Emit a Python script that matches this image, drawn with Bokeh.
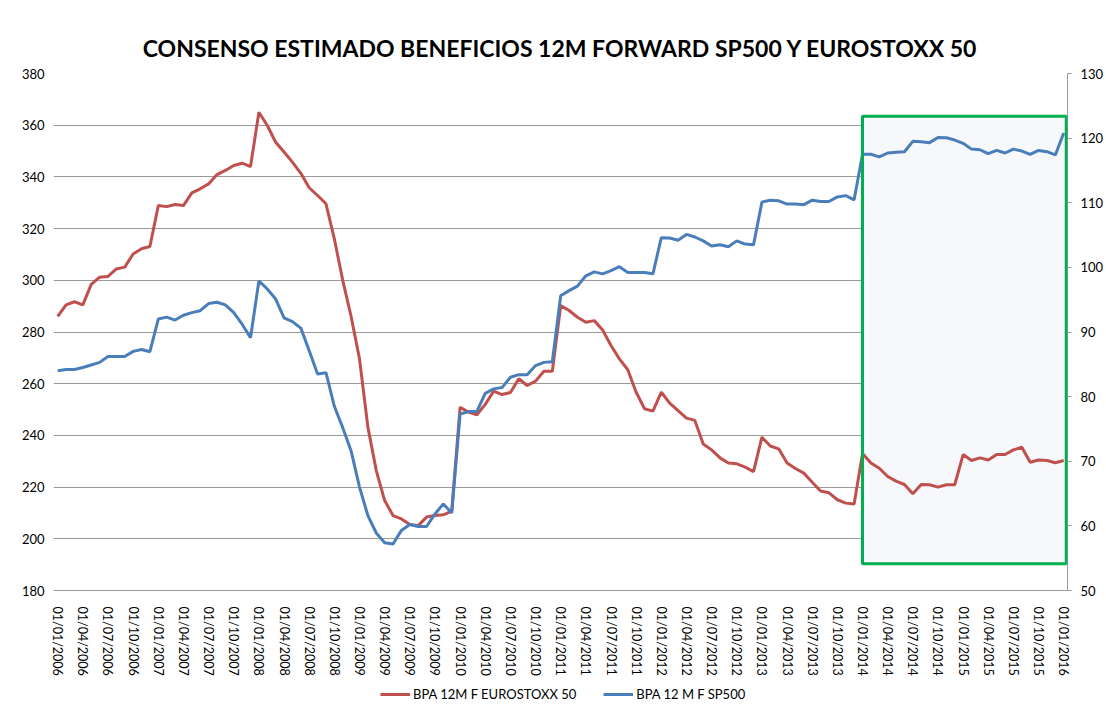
import pandas as pd
from bokeh.plotting import figure
from bokeh.layouts import column
from bokeh.models import (Range1d, LinearAxis, FixedTicker, BoxAnnotation,
                          Legend, LegendItem, ColumnDataSource)
from bokeh.embed import file_html
from bokeh.resources import INLINE

# ---------------- data ----------------
months = pd.date_range("2006-01-01", "2016-01-01", freq="MS")
month_index = list(range(len(months)))

eurostoxx = [
    286.0, 290.5, 291.7, 290.5, 298.4, 301.2, 301.5, 304.4, 305.1, 310.2, 312.2, 313.1,
    328.9, 328.5, 329.3, 328.9, 333.8, 335.4, 337.3, 340.9, 342.5, 344.4, 345.3, 344.0,
    365.0, 359.9, 353.4, 349.6, 345.7, 341.4, 335.8, 332.8, 329.6, 316.0, 300.0, 286.0,
    269.6, 243.2, 226.4, 214.8, 209.0, 207.7, 205.5, 205.1, 208.4, 209.0, 209.3, 210.7,
    250.9, 249.0, 248.0, 252.0, 257.1, 255.8, 256.6, 261.9, 259.3, 261.0, 264.8, 264.8,
    290.2, 288.3, 285.7, 283.8, 284.4, 280.8, 274.8, 269.6, 265.4, 256.7, 250.3, 249.4,
    256.7, 252.5, 249.6, 246.7, 245.8, 236.7, 234.4, 231.3, 229.3, 229.0, 227.7, 226.0,
    239.3, 235.9, 234.8, 229.3, 227.2, 225.4, 221.9, 218.5, 217.8, 215.1, 213.8, 213.5,
    233.0, 229.3, 227.3, 224.1, 222.3, 221.0, 217.4, 221.0, 220.9, 220.0, 220.9, 220.9,
    232.6, 230.3, 231.3, 230.5, 232.6, 232.6, 234.4, 235.4, 229.6, 230.5, 230.3, 229.4,
    230.3,
]

sp500 = [
    84.0, 84.2, 84.2, 84.5, 84.9, 85.3, 86.2, 86.2, 86.2, 87.0, 87.3, 86.95,
    92.0, 92.3, 91.85, 92.6, 93.0, 93.3, 94.4, 94.6, 94.2, 93.0, 91.2, 89.1,
    97.9, 96.65, 95.1, 92.2, 91.6, 90.6, 87.1, 83.5, 83.7, 78.5, 75.2, 71.6,
    66.0, 61.6, 58.9, 57.4, 57.2, 59.3, 60.2, 59.9, 59.9, 61.85, 63.4, 62.0,
    77.3, 77.7, 77.7, 80.5, 81.2, 81.4, 83.0, 83.4, 83.4, 84.8, 85.3, 85.4,
    95.6, 96.4, 97.1, 98.7, 99.3, 99.0, 99.5, 100.1, 99.2, 99.2, 99.2, 99.0,
    104.6, 104.55, 104.2, 105.1, 104.7, 104.1, 103.3, 103.5, 103.2, 104.1, 103.6, 103.5,
    110.1, 110.4, 110.3, 109.8, 109.8, 109.7, 110.4, 110.2, 110.2, 110.9, 111.1, 110.45,
    117.5, 117.5, 117.1, 117.7, 117.8, 117.9, 119.5, 119.45, 119.3, 120.1, 120.05, 119.7,
    119.2, 118.3, 118.2, 117.6, 118.1, 117.7, 118.3, 118.0, 117.5, 118.1, 117.9, 117.4,
    120.8,
]

tick_positions = month_index[::3]
tick_labels = [d.strftime("%d/%m/%Y") for d in months[::3]]

left_ticks = list(range(180, 381, 20))
right_ticks = list(range(50, 131, 10))

series_names = ["BPA 12M F EUROSTOXX 50", "BPA 12 M F SP500"]

# highlighted period (2014 onward)
hl_left, hl_right = 96, 120.3
hl_bottom, hl_top = 190.3, 363.5

FONT = "Lato"
RED = "#C0504D"
BLUE = "#4A7EBB"
GRID = "#9A9A9A"

p = figure(width=1106, height=680, output_backend="svg", toolbar_location=None,
           x_range=Range1d(-0.5, 120.45), y_range=Range1d(180, 380),
           min_border_left=53, min_border_right=37, min_border_top=73,
           min_border_bottom=90)
p.extra_y_ranges = {"sp": Range1d(50, 130)}

p.outline_line_color = None
p.background_fill_color = "white"
p.border_fill_color = "white"

# title
p.title.text = "CONSENSO ESTIMADO BENEFICIOS 12M FORWARD SP500 Y EUROSTOXX 50"
p.title.align = "center"
p.title.text_font = FONT
p.title.text_font_size = "23px"
p.title.text_font_style = "bold"
p.title.text_color = "black"
p.title.standoff = 24

# highlight box (fill under lines, border on top)
p.add_layout(BoxAnnotation(left=hl_left, right=hl_right, bottom=hl_bottom, top=hl_top,
                           fill_color="#F6F8FB", fill_alpha=1.0, line_color=None,
                           level="underlay"))

src = ColumnDataSource(dict(x=month_index, eu=eurostoxx, sp=sp500))
r_eu = p.line("x", "eu", source=src, line_color=RED, line_width=3)
r_sp = p.line("x", "sp", source=src, line_color=BLUE, line_width=3, y_range_name="sp")

p.add_layout(BoxAnnotation(left=hl_left, right=hl_right, bottom=hl_bottom, top=hl_top,
                           fill_color=None, fill_alpha=0, line_color="#00B050",
                           line_alpha=1.0, line_width=3))

# axes
xa = p.xaxis[0]
xa.ticker = FixedTicker(ticks=tick_positions)
xa.major_label_overrides = {t: l for t, l in zip(tick_positions, tick_labels)}
xa.major_label_orientation = "vertical"
xa.major_label_text_font = FONT
xa.major_label_text_font_size = "12.5px"
xa.major_label_text_color = "black"
xa.major_label_standoff = 10
xa.major_tick_line_color = None
xa.minor_tick_line_color = None
xa.axis_line_color = GRID

ya = p.yaxis[0]
ya.ticker = FixedTicker(ticks=left_ticks)
ya.major_label_text_font = FONT
ya.major_label_text_font_size = "13px"
ya.major_label_text_color = "black"
ya.major_label_standoff = 3
ya.major_tick_line_color = None
ya.minor_tick_line_color = None
ya.axis_line_color = None

ra = LinearAxis(y_range_name="sp", ticker=FixedTicker(ticks=right_ticks))
ra.major_label_text_font = FONT
ra.major_label_text_font_size = "13px"
ra.major_label_text_color = "black"
ra.major_label_standoff = 9
ra.major_tick_out = 4
ra.major_tick_in = 0
ra.major_tick_line_color = GRID
ra.minor_tick_line_color = None
ra.axis_line_color = GRID
p.add_layout(ra, "right")

p.xgrid.grid_line_color = None
p.ygrid.ticker = FixedTicker(ticks=left_ticks)
p.ygrid.grid_line_color = GRID
p.ygrid.grid_line_width = 1

# legend strip below the chart: same series, kept out of view so only the
# legend swatches show (its frame is aligned with the chart's frame)
leg = figure(width=1106, height=27, output_backend="svg", toolbar_location=None,
             x_range=Range1d(-0.5, 120.45), y_range=Range1d(1000, 1001),
             x_axis_location=None, y_axis_location=None,
             min_border_left=0, min_border_right=0, min_border_top=0,
             min_border_bottom=0)
leg.grid.visible = False
leg.outline_line_color = None
leg.border_fill_color = "white"
lr_eu = leg.line("x", "eu", source=src, line_color=RED, line_width=3)
lr_sp = leg.line("x", "sp", source=src, line_color=BLUE, line_width=3)

legend = Legend(items=[LegendItem(label=series_names[0], renderers=[lr_eu]),
                       LegendItem(label=series_names[1], renderers=[lr_sp])],
                orientation="horizontal", location=(327, 5))
legend.label_text_font = FONT
legend.label_text_font_size = "13px"
legend.label_text_color = "black"
legend.glyph_width = 30
legend.glyph_height = 14
legend.label_height = 14
legend.label_standoff = 3
legend.spacing = 27
legend.padding = 0
legend.margin = 0
legend.border_line_color = None
legend.background_fill_color = None
leg.add_layout(legend)

layout = column(p, leg, spacing=0)
open("out.html", "w").write(file_html(layout, INLINE))
